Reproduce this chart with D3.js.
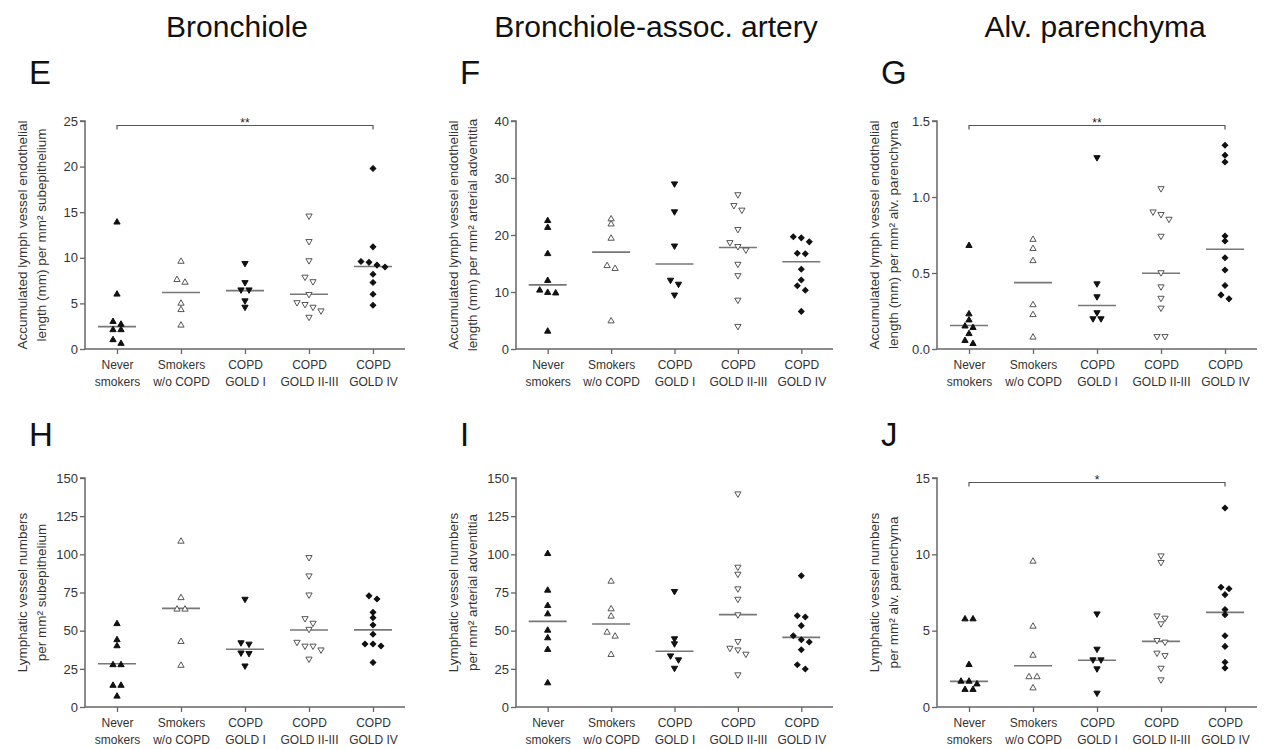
<!DOCTYPE html>
<html><head><meta charset="utf-8">
<script src="https://cdn.jsdelivr.net/npm/d3@7"></script>
<style>
body{margin:0;background:#fff}
svg{display:block}
text{font-family:"Liberation Sans",Arial,Helvetica,sans-serif}
</style>
</head><body>
<svg id="c" width="1265" height="749"></svg>
<script>
// ---------------- DATA ----------------
const groups = [["Never","smokers"],["Smokers","w/o COPD"],["COPD","GOLD I"],["COPD","GOLD II-III"],["COPD","GOLD IV"]];
const columnTitles = ["Bronchiole","Bronchiole-assoc. artery","Alv. parenchyma"];
const panelLetters = ["E","F","G","H","I","J"];

// E: bronchiole, accumulated lymph vessel endothelial length
const bronchioleLength = [
  [13.9, 6.0, 3.0, 2.7, 2.1, 2.1, 1.0, 0.6],
  [9.6, 7.6, 7.3, 5.0, 4.3, 2.6],
  [9.4, 7.3, 6.5, 6.5, 5.3, 4.6],
  [14.6, 11.8, 9.7, 7.9, 7.4, 6.0, 5.1, 4.9, 4.6, 4.2, 3.5],
  [19.8, 11.2, 9.6, 9.5, 9.2, 9.0, 8.2, 7.3, 6.0, 4.8]
];
const bronchioleLengthMedian = [2.45, 6.2, 6.4, 6.0, 9.05];

// F: artery, accumulated length
const arteryLength = [
  [22.5, 21.3, 16.7, 12.0, 10.3, 9.9, 9.8, 3.1],
  [22.8, 21.9, 19.4, 14.6, 14.1, 4.9],
  [29.0, 24.1, 18.1, 12.1, 11.4, 9.5],
  [27.1, 25.2, 24.4, 21.0, 18.7, 18.0, 17.4, 14.9, 12.9, 8.6, 4.0],
  [19.7, 19.5, 18.8, 16.8, 16.7, 14.0, 12.1, 11.1, 10.3, 6.6]
];
const arteryLengthMedian = [11.25, 17.0, 14.9, 17.8, 15.3];

// G: alveolar parenchyma, accumulated length
const parenchymaLength = [
  [0.68, 0.23, 0.19, 0.15, 0.14, 0.10, 0.055, 0.035],
  [0.72, 0.66, 0.58, 0.29, 0.225, 0.077],
  [1.26, 0.43, 0.345, 0.24, 0.20, 0.20],
  [1.056, 0.903, 0.886, 0.855, 0.743, 0.503, 0.41, 0.335, 0.27, 0.083, 0.083],
  [1.34, 1.275, 1.23, 0.743, 0.71, 0.60, 0.52, 0.418, 0.356, 0.33]
];
const parenchymaLengthMedian = [0.155, 0.437, 0.286, 0.498, 0.656];

// H: bronchiole, lymphatic vessel numbers
const bronchioleNumbers = [
  [54.5, 44, 40, 27.6, 27.6, 14.1, 14.1, 7],
  [108.5, 71.5, 64, 64, 42.8, 27.2],
  [70.7, 42.2, 41.3, 35.5, 35.2, 27],
  [98, 86, 73.5, 58, 55, 51, 42.5, 40, 40, 37.5, 31.5],
  [72.8, 70.7, 62, 58.5, 53.7, 47.6, 41.3, 41.3, 40.0, 29.1]
];
const bronchioleNumbersMedian = [28.3, 64.6, 37.8, 50.4, 50.5];

// I: artery, lymphatic vessel numbers
const arteryNumbers = [
  [100.4, 76.4, 66.4, 60.9, 50.2, 45.2, 37.6, 15.7],
  [82.3, 64.2, 59.4, 48.9, 46.3, 34.3],
  [75.8, 44.8, 41.5, 33.6, 31.0, 25.5],
  [139.7, 91.7, 87.1, 77.5, 70.7, 60.5, 43.0, 38.6, 37.5, 34.7, 21.2],
  [86.0, 59.8, 59.0, 53.3, 46.7, 44.1, 42.6, 37.5, 27.7, 24.9]
];
const arteryNumbersMedian = [56.1, 54.4, 36.5, 60.5, 45.6];

// J: parenchyma, lymphatic vessel numbers
const parenchymaNumbers = [
  [5.76, 5.76, 2.77, 1.68, 1.68, 1.5, 1.14, 1.14],
  [9.54, 5.28, 3.38, 1.97, 1.97, 1.24],
  [6.11, 3.8, 3.1, 3.1, 2.51, 0.92],
  [9.91, 9.48, 5.98, 5.83, 5.46, 4.37, 4.26, 3.54, 3.38, 2.55, 1.79],
  [13.03, 7.84, 7.75, 7.36, 6.38, 6.05, 4.67, 3.97, 2.93, 2.55]
];
const parenchymaNumbersMedian = [1.68, 2.7, 3.06, 4.3, 6.2];

const yMaxes = [25, 40, 1.5, 150, 150, 15];
const yTicks = [
  [0,5,10,15,20,25],
  [0,10,20,30,40],
  [0,0.5,1.0,1.5],
  [0,25,50,75,100,125,150],
  [0,25,50,75,100,125,150],
  [0,5,10,15]
];
const yTickFormats = ["d","d",".1f","d","d","d"];
const yLabels = [
  ["Accumulated lymph vessel endothelial","length (mm) per mm\u00B2 subepithelium"],
  ["Accumulated lymph vessel endothelial","length (mm) per mm\u00B2 arterial adventitia"],
  ["Accumulated lymph vessel endothelial","length (mm) per mm\u00B2 alv. parenchyma"],
  ["Lymphatic vessel numbers","per mm\u00B2 subepithelium"],
  ["Lymphatic vessel numbers","per mm\u00B2 arterial adventitia"],
  ["Lymphatic vessel numbers","per mm\u00B2 alv. parenchyma"]
];
const significance = ["**", null, "**", null, null, "*"];

const panelData = [bronchioleLength, arteryLength, parenchymaLength, bronchioleNumbers, arteryNumbers, parenchymaNumbers];
const panelMedians = [bronchioleLengthMedian, arteryLengthMedian, parenchymaLengthMedian, bronchioleNumbersMedian, arteryNumbersMedian, parenchymaNumbersMedian];

// ---------------- LAYOUT ----------------
const colLeft = [85, 516, 937];
const colRight = [405, 833, 1257];
const titleX = [237, 656, 1095];
const rowTop = [121, 478];
const rowBottom = [349, 707];
const letterY = [84, 446];

const svg = d3.select("#c");
const AXIS = "#666";
const TXT = "#333";

columnTitles.forEach((t,i)=>{
  svg.append("text").attr("x", titleX[i]).attr("y", 37).attr("text-anchor","middle")
    .attr("font-size", 30).attr("fill","#111").text(t);
});

const symTri = d3.symbol().type(d3.symbolTriangle).size(17)();
const symDia = d3.symbol().type(d3.symbolSquare).size(16)();
const markerStyle = [
  {path: symTri, rot: 0, fill: "#111", stroke: "#111"},
  {path: symTri, rot: 0, fill: "#fff", stroke: "#555"},
  {path: symTri, rot: 180, fill: "#111", stroke: "#111"},
  {path: symTri, rot: 180, fill: "#fff", stroke: "#555"},
  {path: symDia, rot: 45, fill: "#111", stroke: "#111"}
];

panelData.forEach((data, p) => {
  const col = p % 3, row = Math.floor(p / 3);
  const left = colLeft[col], right = colRight[col];
  const top = rowTop[row], bottom = rowBottom[row];
  const g = svg.append("g");

  // panel letter
  svg.append("text").attr("x", left - 56).attr("y", letterY[row])
    .attr("font-size", 33).attr("fill", "#111").text(panelLetters[p]);

  const x = d3.scalePoint().domain(d3.range(groups.length)).range([left, right]).padding(0.5);
  const y = d3.scaleLinear().domain([0, yMaxes[p]]).range([bottom, top]);

  // y axis
  const yAxis = d3.axisLeft(y).tickValues(yTicks[p]).tickSize(5).tickPadding(2)
    .tickFormat(d3.format(yTickFormats[p]));
  const ya = g.append("g").attr("transform", `translate(${left},0)`).call(yAxis);
  ya.select(".domain").attr("stroke", AXIS).attr("stroke-width", 1.5).attr("d", `M-5,${top}H0V${bottom}`);
  ya.selectAll(".tick line").attr("stroke", AXIS).attr("stroke-width", 1.3);
  ya.selectAll(".tick text").attr("font-size", 13).attr("fill", TXT)
    .attr("font-family", '"Liberation Sans",Arial,sans-serif');

  // x axis
  const xAxis = d3.axisBottom(x).tickSize(5).tickFormat("");
  const xa = g.append("g").attr("transform", `translate(0,${bottom})`).call(xAxis);
  xa.select(".domain").attr("stroke", AXIS).attr("stroke-width", 1.5).attr("d", `M${left},0H${right}`);
  xa.selectAll(".tick line").attr("stroke", AXIS).attr("stroke-width", 1.3);
  xa.selectAll(".tick").each(function(d){
    const t = d3.select(this).append("text").attr("text-anchor","middle")
      .attr("font-size", 12).attr("fill", TXT);
    t.append("tspan").attr("x",0).attr("y",19.5).text(groups[d][0]);
    t.append("tspan").attr("x",0).attr("y",36.5).text(groups[d][1]);
  });

  // y label (two lines)
  const cy = (top + bottom) / 2;
  yLabels[p].forEach((line, li) => {
    svg.append("text")
      .attr("transform", `translate(${left - 63 + li * 19},${cy}) rotate(-90)`)
      .attr("text-anchor", "middle").attr("dy", "0.35em")
      .attr("font-size", 13.5).attr("fill", TXT).text(line);
  });

  // medians
  g.selectAll(".med").data(panelMedians[p]).join("line")
    .attr("x1", (d,i) => x(i) - 19).attr("x2", (d,i) => x(i) + 19)
    .attr("y1", d => y(d)).attr("y2", d => y(d))
    .attr("stroke", "#777").attr("stroke-width", 1.6);

  // points with row-centered horizontal spread
  data.forEach((vals, gi) => {
    const pts = vals.map(v => ({v, py: y(v)})).sort((a,b) => a.py - b.py);
    const rows = [];
    pts.forEach((pt, k) => {
      if (k > 0 && pt.py - pts[k-1].py < 5) rows[rows.length-1].push(pt);
      else rows.push([pt]);
    });
    rows.forEach(r => r.forEach((pt, k) => { pt.dx = (k - (r.length - 1) / 2) * 8; }));
    const ms = markerStyle[gi];
    g.selectAll(null).data(pts).join("path")
      .attr("d", ms.path)
      .attr("transform", d => `translate(${x(gi) + d.dx},${d.py}) rotate(${ms.rot})`)
      .attr("fill", ms.fill).attr("stroke", ms.stroke).attr("stroke-width", 1);
  });

  // significance bracket
  if (significance[p]) {
    const by = top + 4.5;
    const x0 = x(0), x1 = x(groups.length - 1);
    g.append("path").attr("d", `M${x0},${by + 4}V${by}H${x1}V${by + 4}`)
      .attr("fill", "none").attr("stroke", "#555").attr("stroke-width", 1.2);
    g.append("text").attr("x", (x0 + x1) / 2).attr("y", by + 1)
      .attr("text-anchor", "middle").attr("font-size", 12).attr("fill", "#222")
      .text(significance[p]);
  }
});
</script>
</body></html>
